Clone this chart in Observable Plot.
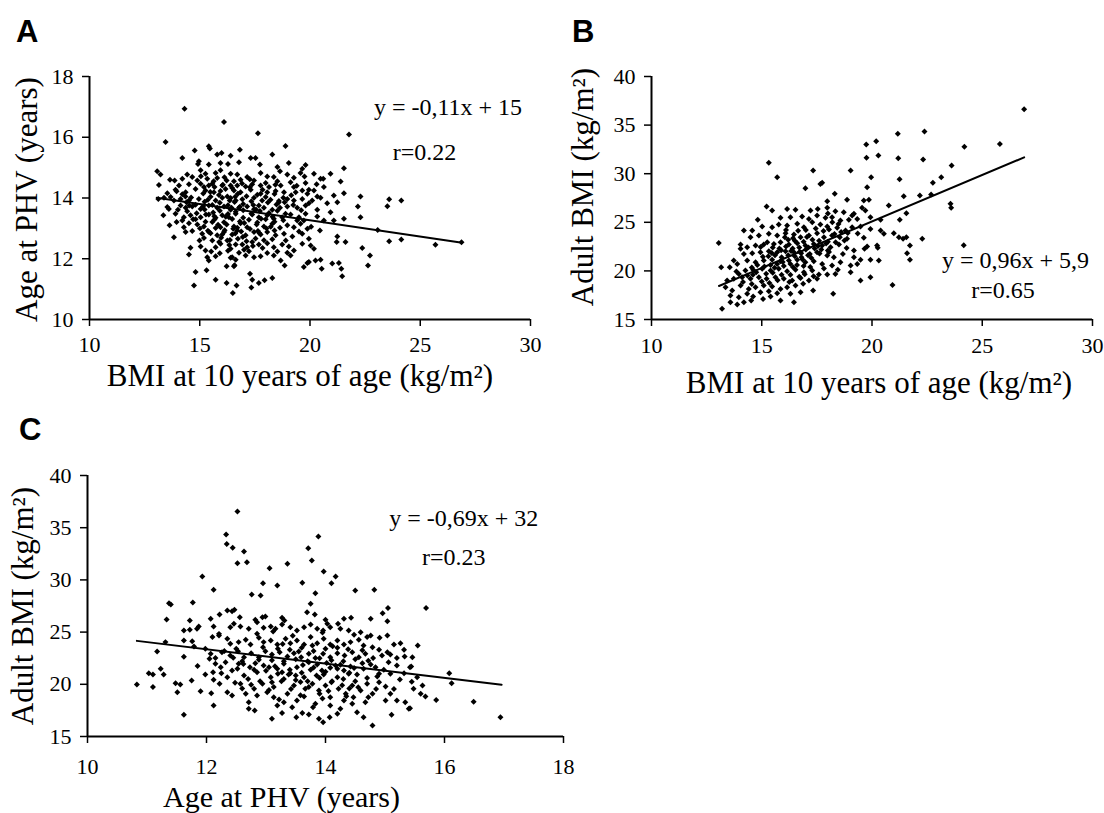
<!DOCTYPE html>
<html><head><meta charset="utf-8">
<script src="https://cdn.jsdelivr.net/npm/d3@7"></script>
<script src="https://cdn.jsdelivr.net/npm/@observablehq/plot@0.6"></script>
<style>
body{margin:0;background:#fff;}
#fig{position:relative;width:1104px;height:813px;background:#fff;overflow:hidden;}
.panel{position:absolute;}
.letter{position:absolute;font-family:"Liberation Sans",Arial,sans-serif;font-weight:bold;font-size:31px;line-height:1;color:#000;}
</style></head><body><div id="fig"></div>
<script>
// ---- Panel A: BMI at 10 years (x) vs Age at PHV (y)
const ticksA_x = [10, 15, 20, 25, 30];
const ticksA_y = [10, 12, 14, 16, 18];
const lineA_x = [13.05, 26.9];
const lineA_y = [14.01, 12.53];
const pointsA = [
[16.10,16.50],[17.64,16.13],[21.77,16.09],[13.45,15.84],[15.41,15.70],[15.46,15.63],[18.89,15.71],[14.77,15.56],[16.82,15.59],[14.21,15.32],[15.79,15.43],[15.99,15.48],[16.40,15.39],[17.31,15.32],[17.53,15.32],[18.29,15.43],[16.78,15.18],[14.31,16.94],
[14.96,15.21],[14.92,15.12],[15.41,15.10],[15.94,15.15],[16.28,15.12],[17.73,15.10],[18.52,15.02],[19.04,15.15],[19.80,15.09],[19.65,14.96],[21.54,14.98],[13.07,14.88],[13.22,14.77],[14.43,14.77],[15.04,14.91],[15.26,14.80],[15.72,14.82],[15.94,14.91],[16.40,14.80],[16.70,14.77],[17.15,14.69],[17.76,14.82],[18.64,14.88],[18.97,14.77],[19.57,14.82],[19.75,14.71],[20.48,14.63],[20.60,14.63],[21.39,14.54],[13.65,14.60],[13.86,14.58],[14.21,14.63],[14.66,14.69],[15.34,14.63],[15.79,14.66],[16.22,14.58],[16.55,14.55],[16.85,14.60],[17.46,14.58],[17.99,14.49],[18.52,14.55],[19.12,14.52],[19.80,14.49],[20.30,14.45],[13.15,14.43],[14.06,14.41],[14.51,14.45],[15.04,14.47],[15.57,14.47],[16.02,14.41],[16.40,14.41],[17.08,14.38],[17.76,14.41],[18.14,14.36],
[13.53,14.16],[13.90,14.27],[14.36,14.19],[14.81,14.30],[15.26,14.25],[15.64,14.19],[15.94,14.23],[16.17,14.30],[16.55,14.25],[16.85,14.19],[17.31,14.27],[17.76,14.14],[18.06,14.19],[18.44,14.23],[18.82,14.19],[19.35,14.19],[19.65,14.25],[19.95,14.27],[20.18,14.25],[20.33,14.05],[20.78,13.83],[21.24,13.86],[21.54,14.16],[22.29,14.05],[13.12,13.97],[13.38,14.01],[13.68,14.03],[14.13,13.97],[14.51,13.92],[14.96,13.97],[15.37,13.94],[15.72,13.92],[16.02,14.01],[16.25,14.05],[16.63,13.92],[16.93,13.96],[17.46,14.01],[17.83,13.92],[18.21,13.94],[18.59,13.90],[18.97,13.97],[19.27,13.92],[19.65,13.97],[19.95,13.83],[13.53,13.70],[13.60,13.64],[14.13,13.75],[14.36,13.68],[14.66,13.72],[15.04,13.64],[15.41,13.75],[15.79,13.68],[16.10,13.72],[16.40,13.61],[16.78,13.68],[17.15,13.72],[17.46,13.63],[17.91,13.68],[18.29,13.61],[18.64,13.68],[18.97,13.72],[19.42,13.68],[19.80,13.75],[20.33,13.61],[20.93,13.53],[22.17,13.72],[22.29,13.37],
[13.35,13.43],[13.90,13.48],[14.28,13.37],[14.58,13.43],[15.04,13.37],[15.41,13.46],[15.72,13.35],[16.02,13.43],[16.32,13.37],[16.63,13.48],[16.97,13.35],[17.38,13.46],[17.68,13.37],[18.06,13.43],[18.36,13.32],[18.74,13.37],[19.12,13.46],[19.50,13.37],[19.72,13.26],[20.33,13.39],[20.45,12.93],[21.54,13.32],[13.63,13.10],[14.28,13.04],[14.51,13.17],[14.89,13.13],[15.19,13.06],[15.57,13.21],[15.94,13.04],[16.22,13.13],[16.55,13.06],[16.85,13.17],[17.15,13.04],[17.58,13.13],[17.91,13.06],[18.29,13.15],[18.64,13.02],[18.97,13.10],[19.27,13.04],[19.57,13.15],[19.88,12.99],[13.83,12.71],[14.36,12.88],[14.66,12.91],[15.11,12.82],[15.49,12.84],[15.79,12.77],[16.10,12.88],[16.47,12.80],[16.70,12.93],[17.08,12.77],[17.46,12.88],[17.76,12.80],[18.06,12.88],[18.44,12.77],[18.82,12.82],[19.20,12.73],[19.65,12.82],[19.95,12.66],[21.24,12.73],[21.21,12.55],[21.61,12.55],
[14.58,12.36],[14.51,12.14],[15.04,12.40],[15.26,12.27],[15.34,12.05],[15.41,11.94],[15.72,12.38],[15.94,12.49],[16.25,12.60],[16.63,12.47],[16.40,12.33],[16.93,12.47],[17.15,12.38],[17.38,12.55],[17.68,12.47],[18.06,12.51],[18.36,12.38],[18.74,12.47],[19.04,12.40],[19.27,12.27],[19.65,12.49],[20.03,12.44],[20.18,12.33],[20.25,11.94],[22.37,12.35],[22.72,12.11],[15.72,12.08],[16.47,12.05],[16.63,11.97],[17.08,12.11],[17.46,12.05],[17.76,12.08],[18.36,12.11],[18.67,11.94],[19.12,12.11],[19.88,11.86],[20.48,11.97],
[14.81,11.56],[15.31,11.62],[14.74,11.12],[15.72,11.31],[16.22,11.75],[16.55,11.75],[16.40,12.03],[16.58,11.79],[17.28,11.51],[17.38,11.31],[17.68,11.20],[17.94,11.29],[18.29,11.37],[18.85,11.78],[19.72,11.73],[19.95,11.89],[20.53,11.67],[21.01,11.84],[21.31,11.86],[21.42,11.67],[21.46,11.42],[16.22,11.20],[16.67,11.12],[16.50,10.87],[17.34,11.05],[22.63,11.78],
[14.21,14.12],[14.61,14.02],[15.16,14.15],[15.49,14.04],[15.87,14.10],[16.40,14.00],[16.73,14.14],[17.12,14.06],[17.61,14.11],[17.99,14.03],[18.39,14.13],[18.79,14.01],[19.15,14.09],
[14.40,13.86],[14.81,13.78],[15.22,13.88],[15.57,13.77],[15.91,13.84],[16.28,13.76],[16.58,13.87],[16.97,13.80],[17.34,13.89],[17.68,13.75],[18.09,13.85],[18.48,13.79],[18.85,13.86],[19.24,13.77],
[14.43,13.56],[14.86,13.50],[15.22,13.62],[15.61,13.52],[15.91,13.58],[16.28,13.47],[16.63,13.55],[16.97,13.60],[17.34,13.49],[17.73,13.57],[18.14,13.51],[18.52,13.58],[18.89,13.48],
[14.81,13.30],[15.26,13.22],[15.67,13.29],[16.10,13.20],[16.47,13.31],[16.82,13.23],[17.23,13.28],[17.61,13.19],[17.99,13.30],[18.39,13.22],[18.79,13.27],
[15.01,13.00],[15.37,12.92],[15.72,13.01],[16.13,12.94],[16.52,12.99],[16.88,12.90],[17.28,12.98],[17.64,12.91],[18.03,13.00],[18.39,12.93],
[15.19,12.68],[15.57,12.60],[15.97,12.69],[16.37,12.62],[16.73,12.66],[17.12,12.58],[17.53,12.67],[17.91,12.61],[18.29,12.64],
[15.52,12.24],[15.91,12.18],[16.28,12.26],[16.78,12.20],[17.23,12.25],[18.06,12.19],[18.52,12.24],[18.97,12.20],
[14.89,14.58],[15.19,14.36],[15.41,14.41],[15.67,14.36],[16.70,14.41],[17.38,14.45],[18.67,14.41],[19.27,14.36],[19.88,14.14],[20.10,13.92],[13.83,13.92],[14.01,13.61],[13.95,13.21],[14.21,13.26],[19.42,13.26],[19.80,13.48],[20.63,13.26],[21.08,13.26],[20.48,14.01],[21.08,14.08],[20.63,14.36],[20.93,14.80],[20.18,14.80],[19.27,14.67],[18.36,14.69],[18.06,14.71],
[15.05,14.72],[15.63,14.55],[16.12,14.68],[16.47,14.33],[16.92,14.48],[17.27,14.62],[17.85,14.27],[18.43,14.44],[15.28,13.46],[15.83,13.12],[16.18,13.38],[16.44,13.68],[16.70,13.02],[17.02,13.18],[17.43,13.77],[17.78,13.32],[18.22,13.05],[18.58,13.85],[15.88,12.55],[16.34,12.45],[16.61,12.83],[17.01,12.30],[17.41,12.42],[17.85,12.35],[15.48,14.20],[16.05,14.44],[16.61,14.04],[17.27,14.35],[15.15,13.73],[15.66,13.40],[16.36,13.92],[16.82,13.71],[17.55,13.62],[18.30,13.38],[15.42,12.88],[16.02,12.80],[16.95,12.72],[17.70,12.85],[14.70,13.30],[14.52,13.75],[14.99,12.60],[14.35,14.05],[13.95,14.22],[19.40,14.40],[19.60,13.60],[18.90,12.60],[19.50,12.90],[20.05,13.05],
[23.59,13.96],[24.14,13.92],[23.51,13.73],[23.07,12.95],[23.59,12.58],[24.14,12.63],[25.69,12.46],[26.87,12.54]
];

// ---- Panel B: BMI at 10 years (x) vs Adult BMI (y)
const ticksB_x = [10, 15, 20, 25, 30];
const ticksB_y = [15, 20, 25, 30, 35, 40];
const lineB_x = [13.06, 26.9];
const lineB_y = [18.45, 31.68];
const pointsB = [
[21.17,34.10],[22.38,34.34],[19.74,33.00],[20.19,33.34],[19.75,31.63],[20.29,31.87],[21.19,31.60],[22.32,31.46],[23.61,30.84],[15.32,31.12],[17.33,30.33],[15.70,29.64],[19.03,30.33],[19.96,29.64],[17.74,29.06],[17.66,28.95],[16.98,28.51],[21.25,29.43],[23.14,29.64],[22.76,29.06],[19.78,28.61],[18.31,27.93],[21.44,27.69],[22.17,27.75],[22.68,27.86],[17.97,27.17],[18.87,27.31],[19.63,27.24],[19.86,27.31],[23.56,26.90],[23.59,26.49],
[15.22,26.62],[15.47,26.21],[16.15,26.38],[16.53,26.28],[17.21,26.21],[17.54,26.38],[17.97,26.49],[18.34,26.14],[18.72,26.04],[19.18,25.87],[19.55,26.49],[19.70,26.21],[20.76,26.73],[21.56,25.94],
[14.82,25.25],[15.85,25.46],[16.30,25.52],[16.83,25.59],[17.14,25.35],[17.51,25.70],[17.89,25.46],[18.19,25.52],[18.57,25.18],[18.95,25.25],[19.33,25.35],[19.93,25.52],[20.39,25.25],[21.26,25.25],
[14.19,24.15],[14.57,24.15],[15.02,24.56],[15.47,24.50],[15.77,24.77],[16.15,24.67],[16.61,24.84],[16.91,24.50],[17.29,25.01],[17.66,24.77],[17.97,24.56],[18.42,24.43],[18.80,24.15],[19.10,24.50],[19.48,24.56],[19.93,24.32],[20.39,24.15],[20.54,23.81],[20.99,23.88],[21.22,23.47],[21.41,23.30],[21.56,23.47],[22.28,23.30],
[13.05,22.88],[14.04,22.71],[14.49,23.47],[14.87,23.64],[15.32,23.81],[15.70,23.64],[16.08,23.88],[16.46,23.74],[16.76,23.47],[17.14,23.64],[17.51,23.88],[17.82,23.47],[18.19,23.64],[18.54,23.47],[18.87,23.30],[19.63,23.40],[19.78,22.51],[20.23,22.61],[21.72,22.61],
[14.04,22.27],[14.34,22.44],[14.72,22.61],[15.09,22.71],[15.55,22.78],[15.85,22.95],[16.23,22.71],[16.61,22.85],[16.98,22.61],[17.36,22.78],[17.74,22.61],[18.12,22.44],[18.50,22.71],[19.18,22.09],[19.66,22.27],[20.26,22.37],[21.59,21.82],[21.72,21.14],
[13.16,20.38],[13.55,20.38],[13.73,21.07],[14.19,21.75],[14.57,21.82],[14.94,21.92],[15.32,22.03],[15.70,21.92],[16.08,22.03],[16.46,21.92],[16.79,21.82],[17.18,21.75],[17.51,21.92],[17.97,21.58],[18.27,21.41],[18.68,21.75],[19.18,21.41],[19.48,21.14],[19.93,21.14],[20.31,21.07],
[13.89,20.72],[14.34,21.07],[14.72,20.90],[15.09,21.07],[15.47,21.14],[15.85,21.00],[16.23,21.07],[16.61,21.14],[16.98,20.90],[17.36,21.00],[17.74,20.72],[18.19,20.55],[18.57,20.90],[19.03,20.55],[19.33,20.72],[18.34,19.69],[17.97,19.63],[19.03,19.87],
[13.96,19.69],[14.26,20.04],[14.61,20.11],[15.02,20.21],[15.40,20.04],[15.77,20.21],[16.15,19.97],[16.53,20.11],[16.91,19.87],[17.29,20.04],[17.59,19.63],[19.48,19.01],[19.93,19.35],[20.93,18.56],
[13.43,19.01],[13.73,19.18],[14.11,19.35],[14.49,19.18],[14.87,19.35],[15.22,19.18],[15.62,19.35],[16.00,19.18],[16.38,19.01],[16.76,19.28],[17.14,19.01],[17.51,19.18],
[13.36,18.32],[13.66,17.98],[14.04,18.50],[14.41,18.15],[14.72,18.32],[15.09,18.50],[15.47,18.39],[15.85,18.15],[16.15,18.32],[16.53,18.50],[16.88,18.67],[17.33,17.98],[18.24,17.64],
[13.58,17.47],[13.96,17.30],[14.34,17.64],[14.61,17.36],[14.94,17.81],[15.32,17.91],[15.70,17.71],[16.30,17.64],[16.76,17.81],
[13.58,16.78],[13.89,16.54],[14.19,16.78],[14.52,16.95],[15.06,17.12],[15.40,17.36],[15.85,16.95],[16.46,16.78],[13.20,16.10],
[26.90,36.63],[25.80,33.05],[24.19,32.78],[24.16,22.63],
[15.3,21.5],[15.6,21.6],[15.9,21.4],[16.2,21.6],[16.5,21.5],[16.8,21.4],[17.1,21.6],[15.4,20.6],[15.7,20.7],[16.0,20.5],[16.3,20.7],[16.6,20.6],[16.9,20.5],[17.2,20.4],[15.5,22.4],[15.8,22.3],[16.1,22.5],[16.4,22.3],[16.7,22.4],[17.0,22.2],[17.4,22.3],[17.7,22.2],[18.0,22.1],[16.2,23.2],[16.5,23.1],[16.9,23.0],[17.3,23.2],[17.6,23.1],[18.0,23.0],[18.3,23.8],[18.6,24.0],[18.9,23.9],[15.2,19.7],[15.5,19.8],[15.9,19.6],[16.3,19.6],[16.7,19.4],[14.8,20.6],[14.6,19.6],[15.0,18.9],[17.0,24.2],[17.8,24.1],[18.2,25.0],
[14.35,19.52],[14.75,19.86],[15.12,20.45],[15.58,20.33],[15.95,20.92],[16.42,20.38],[16.85,21.18],[17.25,21.33],[17.62,21.78],[18.05,21.95],[14.55,20.35],[15.05,21.45],[15.45,21.85],[15.88,22.12],[16.33,22.05],[16.72,21.96],[17.12,22.42],[17.55,22.55],[17.92,22.81],[18.35,22.95],[18.75,23.12],[16.05,23.45],[16.65,24.12],[17.45,24.35],[18.05,24.25],[18.48,24.82],[14.95,22.45],[15.25,22.95],[13.85,19.95],[14.15,18.85],[14.55,18.65],[15.35,18.75],[15.72,19.05],[16.25,18.85],[16.95,19.65],[17.35,19.45],[17.82,20.25],[18.45,20.12],[16.42,23.35],[17.05,23.48],[18.85,22.35],[19.35,23.85],[19.1,25.7],[18.0,25.9],[16.1,24.2]
];

// ---- Panel C: Age at PHV (x) vs Adult BMI (y)
const ticksC_x = [10, 12, 14, 16, 18];
const ticksC_y = [15, 20, 25, 30, 35, 40];
const lineC_x = [10.83, 16.96];
const lineC_y = [24.16, 19.96];
const pointsC = [
[12.33,34.35],[12.34,33.45],[12.44,33.07],[12.63,32.72],[12.52,31.60],[12.68,31.70],[13.88,34.16],[13.71,33.04],[13.77,31.86],[13.06,31.12],[13.36,31.54],[13.97,30.80],[14.10,29.69],[14.17,30.33],[11.93,30.33],[12.12,29.05],[13.61,29.72],[13.19,29.46],[12.95,29.69],[12.76,28.60],[12.91,28.51],[14.50,28.99],[14.82,29.05],[13.83,28.73],[13.75,27.71],[13.69,26.91],[13.82,26.69],[15.05,27.32],[14.96,26.81],[15.69,27.32],[11.37,27.77],[11.40,27.64],[11.77,27.84],[11.33,26.21],[12.52,36.56],
[12.07,26.27],[11.72,26.11],[11.84,25.31],[11.72,25.22],[11.62,25.15],[11.87,25.54],[12.22,26.69],[12.35,27.07],[12.43,27.00],[12.47,27.13],[12.56,26.43],[12.82,26.18],[12.94,26.43],[12.99,26.50],[13.27,26.37],[13.31,26.11],[14.00,26.18],[14.03,25.79],[14.21,25.79],[14.31,26.27],[14.43,26.37],[14.76,26.27],[15.04,26.05],
[12.12,25.54],[12.21,24.83],[12.40,25.47],[12.46,25.79],[12.57,25.54],[12.71,25.31],[12.85,25.95],[12.96,25.41],[13.08,25.54],[13.16,25.31],[13.27,25.73],[13.41,25.47],[13.52,25.15],[13.64,25.47],[13.75,25.73],[13.86,25.31],[13.96,25.15],[14.08,25.47],[14.25,25.31],[14.39,25.15],[14.59,24.99],[14.76,24.67],[14.91,24.45],[15.04,24.67],
[11.17,23.14],[11.31,24.04],[11.62,24.20],[11.76,24.13],[11.79,23.62],[11.98,23.40],[12.10,24.52],[12.21,24.67],[12.35,24.36],[12.40,23.88],[12.54,24.04],[12.66,24.26],[12.74,23.81],[12.88,24.45],[12.96,24.04],[13.08,24.20],[13.19,23.81],[13.33,24.36],[13.41,23.94],[13.52,24.20],[13.64,23.81],[13.75,24.52],[13.86,23.94],[13.97,24.36],[14.08,23.81],[14.20,24.20],[14.31,23.81],[14.42,24.04],[14.56,24.26],[14.64,23.72],[14.70,24.52],[14.79,23.56],[14.90,23.30],[15.04,23.08],[15.15,23.81],[15.26,23.94],[15.32,23.30],[15.55,23.72],[15.46,22.60],
[12.07,22.92],[12.15,22.53],[12.26,23.08],[12.40,22.76],[12.53,23.17],[12.63,22.60],[12.75,22.98],[12.88,22.60],[12.99,23.17],[13.10,22.85],[13.23,23.08],[13.36,22.66],[13.47,22.98],[13.59,22.60],[13.72,22.92],[13.83,22.53],[13.96,22.92],[14.08,22.60],[14.20,22.98],[14.32,22.76],[14.45,23.08],[14.56,22.60],[14.67,22.92],[14.80,22.53],[14.95,22.76],[15.09,22.85],[15.20,22.53],[15.33,22.66],[15.44,21.71],
[11.03,21.07],[11.10,20.94],[11.23,21.48],[11.28,20.94],[11.48,20.11],[11.56,19.98],[11.75,20.37],[11.98,20.94],[12.11,21.16],[12.24,21.64],[12.35,20.68],[12.43,21.32],[12.54,21.96],[12.63,20.84],[12.73,21.64],[12.85,21.16],[12.96,21.80],[13.08,20.68],[13.19,21.48],[13.30,21.96],[13.41,21.07],[13.52,21.64],[13.64,20.68],[13.75,21.39],[13.86,21.90],[13.97,20.94],[14.08,21.58],[14.20,20.68],[14.31,21.32],[14.42,21.71],[14.53,20.94],[14.64,21.48],[14.76,21.90],[14.87,20.75],[14.98,21.39],[15.09,21.00],[15.20,21.80],[15.32,21.07],[15.42,21.64],[15.54,20.68],[15.63,19.89],
[12.15,21.96],[12.32,22.12],[12.52,21.48],[12.82,22.02],[13.05,21.64],[13.27,21.16],[13.50,20.84],[13.72,22.12],[13.94,21.32],[14.17,21.80],[14.39,21.00],[14.62,22.02],[14.84,21.64],[15.06,22.12],
[10.83,19.98],[11.10,19.73],[11.51,19.25],[11.90,19.34],[12.08,19.15],[12.12,20.43],[12.22,20.05],[12.35,19.25],[12.43,18.93],[12.57,20.05],[12.66,19.09],[12.80,19.57],[12.94,20.05],[13.02,19.25],[13.13,19.73],[13.26,20.30],[13.36,19.09],[13.47,19.89],[13.58,20.21],[13.66,19.57],[13.78,20.05],[13.89,19.41],[14.00,19.89],[14.11,20.30],[14.22,19.57],[14.34,19.09],[14.45,19.89],[14.59,19.41],[14.70,20.05],[14.79,19.09],[15.01,19.79],[15.09,19.09],[15.20,18.45],[15.34,18.29],[15.48,19.57],[15.60,19.09],[15.68,18.83],
[12.71,18.29],[12.85,18.93],[13.13,18.77],[13.30,18.29],[13.52,18.45],[13.64,18.83],[13.83,18.13],[14.08,18.77],[14.31,18.45],[14.47,18.77],[14.67,18.29],[15.01,18.45],
[11.62,17.08],[12.12,17.97],[12.71,17.65],[12.81,17.49],[13.10,16.69],[13.27,17.24],[13.51,16.85],[13.61,17.24],[13.72,17.11],[13.79,17.81],[13.89,16.69],[13.96,16.37],[14.07,16.85],[14.08,17.97],[14.25,17.65],[14.53,17.33],[14.64,16.85],[14.79,16.05],[15.11,17.08],[15.40,17.65],[13.44,17.81],[13.19,17.97],[14.20,17.17],[14.45,18.13],
[15.86,18.50],[16.08,21.05],[16.12,20.10],[16.49,18.34],[16.94,16.85],[15.42,17.70],
[13.0,21.3],[13.2,21.0],[13.4,21.4],[13.6,21.1],[13.8,21.6],[14.0,21.2],[14.2,21.5],[14.4,21.1],[13.1,22.3],[13.3,22.2],[13.5,22.4],[13.7,22.2],[13.9,22.5],[14.1,22.3],[14.3,22.2],[14.5,22.4],[12.6,22.2],[12.8,21.4],[12.7,20.5],[12.9,20.3],[13.1,20.2],[13.3,20.5],[13.5,20.4],[13.7,20.3],[13.9,20.6],[14.1,20.2],[14.3,20.5],[14.5,20.3],[14.7,20.6],[14.9,20.2],[13.2,23.4],[13.4,23.3],[13.6,23.5],[13.8,23.2],[14.0,23.4],[14.2,23.5],[12.5,23.4],[12.3,23.2],[12.6,19.6],[13.9,19.1],[14.4,19.6],[14.9,21.0],
[12.45,22.55],[12.62,21.95],[12.88,22.35],[13.15,21.72],[13.38,20.95],[13.62,21.85],[13.85,20.85],[14.02,22.05],[14.25,21.88],[14.48,21.55],[14.72,22.25],[12.95,23.55],[13.28,23.85],[13.55,23.15],[13.78,23.72],[14.12,23.65],[14.38,23.35],[14.62,23.25],[12.75,19.95],[13.05,19.45],[13.42,19.55],[13.72,19.75],[14.05,19.35],[14.28,19.92],[14.55,19.72],[14.85,19.55],[13.22,18.55],[13.58,18.95],[13.95,18.65],[14.35,18.85],[14.72,18.75],[12.48,20.15],[12.25,21.05],[12.05,22.45],[12.85,24.85],[13.45,24.65],[13.95,24.95],[14.48,24.75],[13.12,25.05],[15.25,20.45],[15.15,19.55],[15.45,20.25],[11.85,21.75],[11.62,22.65]
];

const FONT = '"Liberation Serif","Times New Roman",serif';

function panel(o) {
  const lineData = o.lx.map((x, i) => ({x, y: o.ly[i]}));
  return Plot.plot({
    width: o.w, height: o.h,
    marginLeft: o.ml, marginRight: o.mr, marginTop: o.mt, marginBottom: o.mb,
    x: {domain: o.xd}, y: {domain: o.yd},
    style: {fontFamily: FONT, color: "#000", background: "transparent", overflow: "visible"},
    marks: [
      Plot.axisX({ticks: o.xt, tickSize: 7, tickPadding: o.xpad, fontSize: 22, label: null, strokeWidth: 1.5}),
      Plot.axisY({ticks: o.yt, tickSize: 7, tickPadding: 9, fontSize: 22, label: null, strokeWidth: 1.5}),
      Plot.ruleX([o.xd[0]], {strokeWidth: 2}),
      Plot.ruleY([o.yd[0]], {strokeWidth: 2}),
      Plot.dot(o.pts, {x: d => d[0], y: d => d[1], symbol: "diamond2", r: 2.7, fill: "#000", stroke: "none"}),
      Plot.line(lineData, {x: "x", y: "y", stroke: "#000", strokeWidth: 2}),
      Plot.text([o.eq], {x: o.eqx, y: o.eqy, text: d => d, textAnchor: "start", lineAnchor: "middle", fontSize: 24}),
      Plot.text([o.r], {x: o.rx, y: o.ry, text: d => d, textAnchor: "start", lineAnchor: "middle", fontSize: 24}),
      Plot.text([o.xTitle], {frameAnchor: "bottom", dx: o.xtdx, dy: o.xtdy, text: d => d, textAnchor: "middle", lineAnchor: "middle", fontSize: o.xtfs}),
      Plot.text([o.yTitle], {frameAnchor: "left", rotate: -90, dx: o.ytdx, dy: o.ytdy, text: d => d, textAnchor: "middle", lineAnchor: "middle", fontSize: 31})
    ]
  });
}

const fig = document.getElementById("fig");
function place(el, left, top) {
  el.classList.add("panel");
  el.style.left = left + "px";
  el.style.top = top + "px";
  fig.appendChild(el);
}

place(panel({
  w: 560, h: 400, ml: 89, mr: 30, mt: 76, mb: 81,
  xd: [10, 30], yd: [10, 18], xt: ticksA_x, yt: ticksA_y, xpad: 10,
  pts: pointsA, lx: lineA_x, ly: lineA_y,
  eq: "y = -0,11x + 15", eqx: 22.9, eqy: 17.0, r: "r=0.22", rx: 23.75, ry: 15.51,
  xTitle: "BMI at 10 years of age (kg/m²)", xtdx: -10, xtdy: 57, xtfs: 31,
  yTitle: "Age at PHV (years)", ytdx: -62, ytdy: 1.5
}), 0, 0);

place(panel({
  w: 544, h: 400, ml: 91, mr: 12, mt: 76, mb: 81,
  xd: [10, 30], yd: [15, 40], xt: ticksB_x, yt: ticksB_y, xpad: 11,
  pts: pointsB, lx: lineB_x, ly: lineB_y,
  eq: "y = 0,96x + 5,9", eqx: 23.17, eqy: 21.09, r: "r=0.65", rx: 24.5, ry: 17.99,
  xTitle: "BMI at 10 years of age (kg/m²)", xtdx: 7, xtdy: 64, xtfs: 31,
  yTitle: "Adult BMI (kg/m²)", ytdx: -68, ytdy: -11
}), 560, 0);

place(panel({
  w: 600, h: 413, ml: 87, mr: 37, mt: 75, mb: 77,
  xd: [10, 18], yd: [15, 40], xt: ticksC_x, yt: ticksC_y, xpad: 15,
  pts: pointsC, lx: lineC_x, ly: lineC_y,
  eq: "y = -0,69x + 32", eqx: 15.07, eqy: 35.86, r: "r=0.23", rx: 15.62, ry: 32.2,
  xTitle: "Age at PHV (years)", xtdx: -44, xtdy: 61, xtfs: 30,
  yTitle: "Adult BMI (kg/m²)", ytdx: -64, ytdy: 0
}), 0, 400);

[["A", 16, 16], ["B", 572, 16], ["C", 19, 414]].forEach(([t, l, tp]) => {
  const d = document.createElement("div");
  d.className = "letter";
  d.textContent = t;
  d.style.left = l + "px";
  d.style.top = tp + "px";
  fig.appendChild(d);
});
</script></body></html>
